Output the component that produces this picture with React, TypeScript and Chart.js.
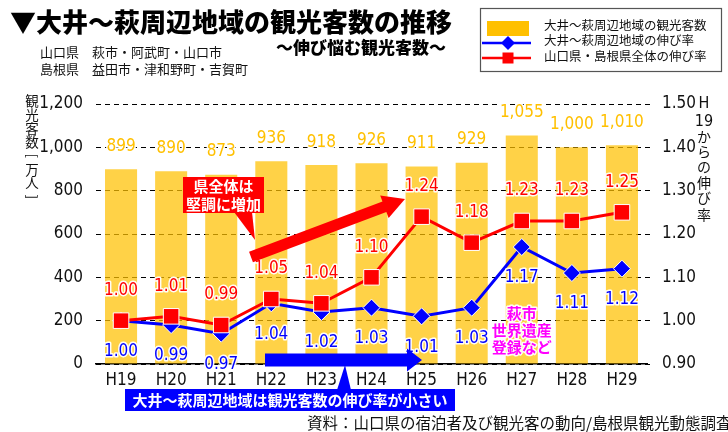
import React, { useEffect, useRef } from "react";
import { Chart, registerables } from "chart.js";

Chart.register(...registerables);

// ---- data ----
const categories = ["H19", "H20", "H21", "H22", "H23", "H24", "H25", "H26", "H27", "H28", "H29"];
const visitors = [899, 890, 873, 936, 918, 926, 911, 929, 1055, 1000, 1010];
const areaGrowth = [1.0, 0.99, 0.97, 1.04, 1.02, 1.03, 1.01, 1.03, 1.17, 1.11, 1.12];
const prefGrowth = [1.0, 1.01, 0.99, 1.05, 1.04, 1.1, 1.24, 1.18, 1.23, 1.23, 1.25];

const leftMin = 0;
const leftMax = 1200;
const leftStep = 200;
const rightMin = 0.9;
const rightMax = 1.5;
const rightStep = 0.1;

const legendLabels = ["大井～萩周辺地域の観光客数", "大井～萩周辺地域の伸び率", "山口県・島根県全体の伸び率"];
const leftTitleChars = ["観", "光", "客", "数", "[", "万", "人", "]"];
const rightTitleChars = ["H", "19", "か", "ら", "の", "伸", "び", "率"];

const NUM = "'Liberation Sans Narrow', 'Arial Narrow', 'DejaVu Sans Condensed', 'Liberation Sans', sans-serif";
const JP = "'Noto Sans CJK JP', 'Noto Sans', sans-serif";

const ORANGE = "#FFC000";
const BLUE = "#0000FF";
const RED = "#FF0000";
const TEXT = "#111";

function haloText(ctx: CanvasRenderingContext2D, text: string, x: number, y: number, color: string, font: string, halo = 3) {
  ctx.save();
  ctx.font = font;
  ctx.textAlign = "center";
  ctx.textBaseline = "middle";
  ctx.lineJoin = "round";
  ctx.strokeStyle = "rgba(255,255,255,0.95)";
  ctx.lineWidth = halo;
  ctx.strokeText(text, x, y);
  ctx.fillStyle = color;
  ctx.fillText(text, x, y);
  ctx.restore();
}

function drawArrow(ctx: CanvasRenderingContext2D, x1: number, y1: number, x2: number, y2: number, shaftHalf: number, headHalf: number, headLen: number, color: string) {
  const ang = Math.atan2(y2 - y1, x2 - x1);
  const L = Math.hypot(x2 - x1, y2 - y1);
  ctx.save();
  ctx.translate(x1, y1);
  ctx.rotate(ang);
  ctx.beginPath();
  ctx.moveTo(0, -shaftHalf);
  ctx.lineTo(L - headLen, -shaftHalf);
  ctx.lineTo(L - headLen, -headHalf);
  ctx.lineTo(L, 0);
  ctx.lineTo(L - headLen, headHalf);
  ctx.lineTo(L - headLen, shaftHalf);
  ctx.lineTo(0, shaftHalf);
  ctx.closePath();
  ctx.fillStyle = color;
  ctx.fill();
  ctx.restore();
}

const overlay = {
  id: "overlay",
  beforeDraw(chart: any) {
    const ctx = chart.ctx;
    ctx.save();
    ctx.fillStyle = "#fff";
    ctx.fillRect(0, 0, chart.width, chart.height);
    ctx.restore();
  },
  afterDatasetsDraw(chart: any) {
    const ctx: CanvasRenderingContext2D = chart.ctx;
    const xs = chart.scales.x;
    const yl = chart.scales.y;
    const yr = chart.scales.y1;

    // data labels
    visitors.forEach((v, i) => {
      haloText(ctx, v.toLocaleString("en-US"), xs.getPixelForValue(i), yl.getPixelForValue(v) - 23, ORANGE, `17px ${NUM}`, 3);
    });
    prefGrowth.forEach((v, i) => {
      haloText(ctx, v.toFixed(2), xs.getPixelForValue(i), yr.getPixelForValue(v) - 30, RED, `17px ${NUM}`, 3);
    });
    areaGrowth.forEach((v, i) => {
      haloText(ctx, v.toFixed(2), xs.getPixelForValue(i), yr.getPixelForValue(v) + 31, BLUE, `17px ${NUM}`, 3);
    });

    // red callout
    ctx.save();
    ctx.fillStyle = RED;
    ctx.fillRect(183, 177, 81, 36);
    ctx.beginPath();
    ctx.moveTo(234, 212);
    ctx.lineTo(252, 212);
    ctx.lineTo(255, 240);
    ctx.closePath();
    ctx.fill();
    ctx.fillStyle = "#fff";
    ctx.font = `bold 15px ${JP}`;
    ctx.textAlign = "center";
    ctx.textBaseline = "middle";
    ctx.fillText("県全体は", 223.5, 186.5);
    ctx.fillText("堅調に増加", 223.5, 204);
    ctx.restore();

    // red arrow
    drawArrow(ctx, 251, 257, 405, 199, 5.5, 12, 22, RED);

    // blue arrow
    drawArrow(ctx, 265, 360, 422, 360, 6.5, 11.5, 15, BLUE);

    // blue callout
    ctx.save();
    ctx.fillStyle = BLUE;
    ctx.fillRect(125, 389, 330, 22);
    ctx.beginPath();
    ctx.moveTo(337, 390);
    ctx.lineTo(351, 390);
    ctx.lineTo(345, 365);
    ctx.closePath();
    ctx.fill();
    ctx.fillStyle = "#fff";
    ctx.font = `bold 15px ${JP}`;
    ctx.textAlign = "center";
    ctx.textBaseline = "middle";
    ctx.fillText("大井～萩周辺地域は観光客数の伸び率が小さい", 290, 400.5);
    ctx.restore();

    // magenta note
    const mx = xs.getPixelForValue(8);
    haloText(ctx, "萩市", mx, 313, "#FF00FF", `bold 15px ${JP}`, 3);
    haloText(ctx, "世界遺産", mx, 330, "#FF00FF", `bold 15px ${JP}`, 3);
    haloText(ctx, "登録など", mx, 347, "#FF00FF", `bold 15px ${JP}`, 3);
  },
  afterDraw(chart: any) {
    const ctx: CanvasRenderingContext2D = chart.ctx;
    ctx.save();
    ctx.textBaseline = "middle";

    // x tick labels drawn on top of annotations
    const xs = chart.scales.x;
    ctx.font = `17px ${NUM}`;
    ctx.fillStyle = TEXT;
    ctx.textAlign = "center";
    categories.forEach((c, i) => {
      ctx.fillText(c, xs.getPixelForValue(i), 381);
    });

    // title
    ctx.fillStyle = "#000";
    ctx.font = `900 26px ${JP}`;
    ctx.textAlign = "left";
    ctx.fillText("▼大井～萩周辺地域の観光客数の推移", 10, 22);
    ctx.font = `900 17px ${JP}`;
    ctx.fillText("～伸び悩む観光客数～", 276, 48);
    ctx.fillStyle = TEXT;
    ctx.font = `13px ${JP}`;
    ctx.fillText("山口県　萩市・阿武町・山口市", 40, 52);
    ctx.fillText("島根県　益田市・津和野町・吉賀町", 40, 69);

    // legend
    ctx.strokeStyle = "#555";
    ctx.lineWidth = 1.2;
    ctx.strokeRect(480.5, 8.5, 241, 63);
    ctx.fillStyle = ORANGE;
    ctx.fillRect(487, 21, 42, 15);
    ctx.strokeStyle = BLUE;
    ctx.lineWidth = 2.5;
    ctx.beginPath();
    ctx.moveTo(482, 43);
    ctx.lineTo(531, 43);
    ctx.stroke();
    ctx.fillStyle = BLUE;
    ctx.beginPath();
    ctx.moveTo(508, 36);
    ctx.lineTo(515, 43);
    ctx.lineTo(508, 50);
    ctx.lineTo(501, 43);
    ctx.closePath();
    ctx.fill();
    ctx.strokeStyle = RED;
    ctx.beginPath();
    ctx.moveTo(482, 58);
    ctx.lineTo(531, 58);
    ctx.stroke();
    ctx.fillStyle = RED;
    ctx.fillRect(502.5, 52.5, 11, 11);
    ctx.fillStyle = TEXT;
    ctx.font = `12.5px ${JP}`;
    ctx.textAlign = "left";
    ctx.fillText(legendLabels[0], 544, 25);
    ctx.fillText(legendLabels[1], 544, 40.5);
    ctx.fillText(legendLabels[2], 544, 56);

    // left axis title (vertical)
    ctx.textAlign = "center";
    ctx.font = `13.5px ${JP}`;
    leftTitleChars.forEach((c, i) => {
      const y = 101 + i * 13.7;
      if (c === "[" || c === "]") {
        ctx.save();
        ctx.translate(32, y);
        ctx.rotate(Math.PI / 2);
        ctx.fillText(c, 0, 0);
        ctx.restore();
      } else {
        ctx.fillText(c, 32, y);
      }
    });

    // right axis title (vertical)
    const rys = [104, 122, 137, 152, 167, 183, 198, 215];
    rightTitleChars.forEach((c, i) => {
      ctx.font = i < 2 ? `16px ${NUM}` : `14px ${JP}`;
      ctx.fillText(c, 704, rys[i]);
    });

    // source
    ctx.textAlign = "left";
    ctx.font = `15.5px ${JP}`;
    ctx.fillStyle = TEXT;
    ctx.fillText("資料：山口県の宿泊者及び観光客の動向/島根県観光動態調査", 307, 423);
    ctx.restore();
  },
};

export default function App() {
  const ref = useRef<HTMLCanvasElement>(null);
  useEffect(() => {
    document.body.style.margin = "0";
    const canvas = ref.current!;
    const chart = new Chart(canvas, {
      type: "bar",
      data: {
        labels: categories,
        datasets: [
          {
            type: "line",
            label: legendLabels[2],
            data: prefGrowth,
            yAxisID: "y1",
            borderColor: RED,
            borderWidth: 3,
            pointStyle: "rect",
            pointRadius: 11,
            pointBackgroundColor: RED,
            pointBorderColor: "#fff",
            pointBorderWidth: 1,
            order: 1,
          } as any,
          {
            type: "line",
            label: legendLabels[1],
            data: areaGrowth,
            yAxisID: "y1",
            borderColor: BLUE,
            borderWidth: 3,
            pointStyle: "rectRot",
            pointRadius: 8.5,
            pointBackgroundColor: BLUE,
            pointBorderColor: "#fff",
            pointBorderWidth: 1,
            order: 2,
          } as any,
          {
            type: "bar",
            label: legendLabels[0],
            data: visitors,
            yAxisID: "y",
            backgroundColor: "rgba(255,192,0,0.72)",
            borderWidth: 0,
            barPercentage: 0.64,
            categoryPercentage: 1,
            order: 3,
          } as any,
        ],
      },
      options: {
        animation: false,
        responsive: false,
        maintainAspectRatio: false,
        devicePixelRatio: 1,
        layout: { padding: { top: 104, left: 0, right: 0, bottom: 0 } },
        plugins: {
          legend: { display: false },
          tooltip: { enabled: false },
          title: { display: false },
        },
        scales: {
          x: {
            grid: { display: false },
            border: { display: true, color: "#000", width: 1.5 },
            ticks: { display: false },
            afterFit: (s: any) => {
              s.height = 68;
            },
          },
          y: {
            position: "left",
            min: leftMin,
            max: leftMax,
            grid: { color: "#000", lineWidth: 1, drawTicks: false },
            border: { display: false, dash: [5, 4] },
            ticks: {
              stepSize: leftStep,
              color: TEXT,
              padding: 13,
              font: { family: NUM, size: 17 },
              callback: (v: any) => Number(v).toLocaleString("en-US"),
            },
            afterFit: (s: any) => {
              s.width = 96;
            },
          },
          y1: {
            position: "right",
            min: rightMin,
            max: rightMax,
            grid: { drawOnChartArea: false, drawTicks: true, tickLength: 6, tickColor: "#000", tickBorderDash: [3, 3] },
            border: { display: false },
            ticks: {
              stepSize: rightStep,
              color: TEXT,
              padding: 9,
              font: { family: NUM, size: 17 },
              callback: (v: any) => Number(v).toFixed(2),
            },
            afterFit: (s: any) => {
              s.width = 81;
            },
          },
        },
      },
      plugins: [overlay],
    });
    return () => chart.destroy();
  }, []);
  return (
    <div style={{ position: "absolute", left: 0, top: 0 }}>
      <canvas ref={ref} width={728} height={432} style={{ display: "block", width: 728, height: 432 }} />
    </div>
  );
}
